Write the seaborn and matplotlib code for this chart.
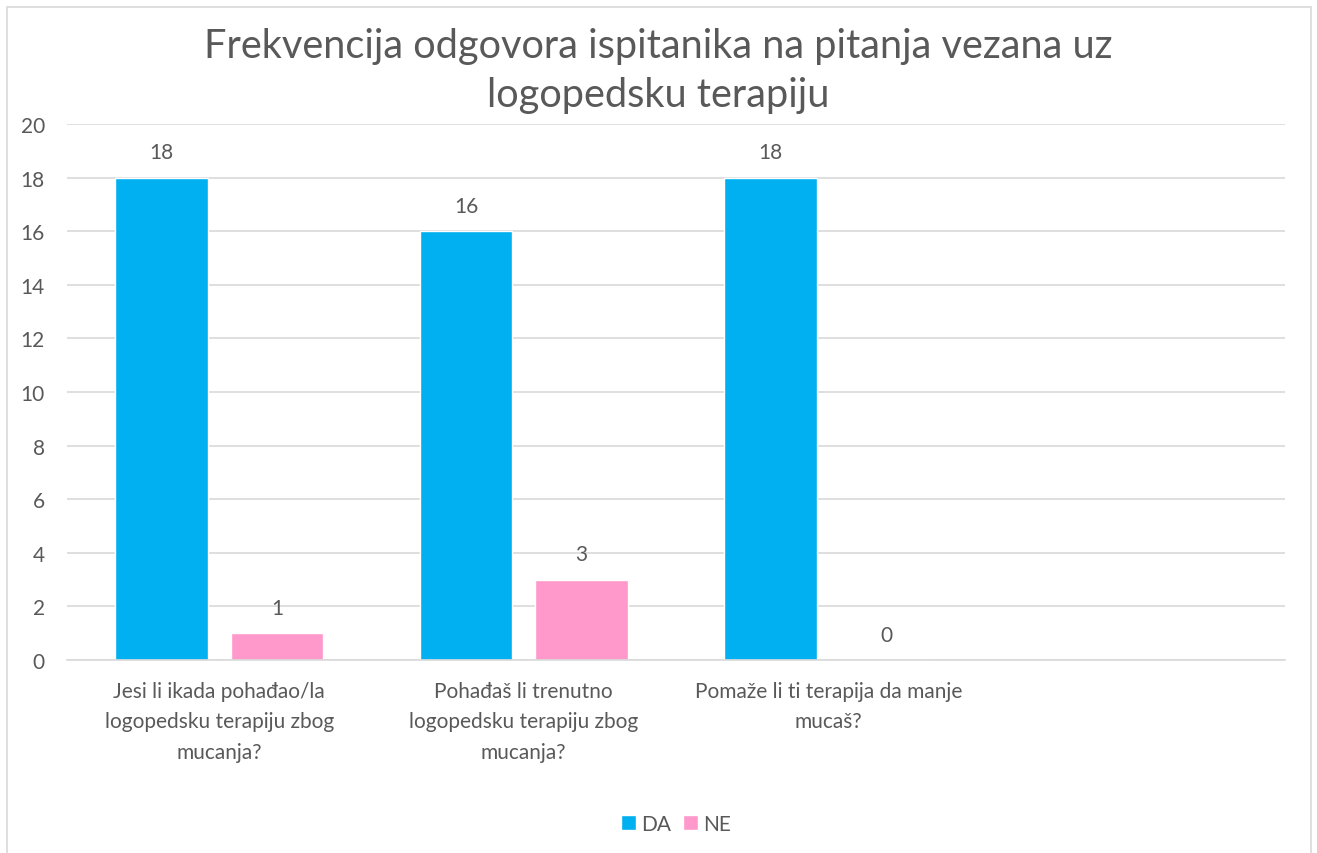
"""Frekvencija odgovora ispitanika - logopedska terapija."""

import matplotlib.pyplot as plt
import pandas as pd
import seaborn as sns
from matplotlib.patches import Rectangle

questions = [
    "Jesi li ikada pohađao/la\nlogopedsku terapiju zbog\nmucanja?",
    "Pohađaš li trenutno\nlogopedsku terapiju zbog\nmucanja?",
    "Pomaže li ti terapija da manje\nmucaš?",
    "",
]
da_values = [18, 16, 18]
ne_values = [1, 3, 0]
answers = ["DA", "NE"]
colors = {"DA": "#00B0F0", "NE": "#FF99CC"}

TEXT = "#595959"
GRID = "#D9D9D9"

rows = []
for q, da, ne in zip(questions, da_values, ne_values):
    rows.append({"pitanje": q, "odgovor": "DA", "broj": da})
    rows.append({"pitanje": q, "odgovor": "NE", "broj": ne})
data = pd.DataFrame(rows)
data["pitanje"] = pd.Categorical(data["pitanje"], categories=questions)

sns.set_style("white")
plt.rcParams["font.family"] = ["Lato", "DejaVu Sans"]

fig = plt.figure(figsize=(13.17, 8.54), dpi=100)
ax = fig.add_axes([67 / 1317, 1 - 661 / 854, (1285 - 67) / 1317, (661 - 125) / 854])

sns.barplot(data=data, x="pitanje", y="broj", hue="odgovor", order=questions,
            hue_order=answers, palette=colors, width=0.76, gap=0.2,
            saturation=1, ax=ax, legend=True)

for container in ax.containers:
    ax.bar_label(container, fmt="%d", padding=11, fontsize=15, color=TEXT)

ax.set_xlim(-0.5, len(questions) - 0.5)
ax.set_ylim(0, 20)
ax.set_yticks(range(0, 21, 2))
ax.yaxis.grid(True, color=GRID, linewidth=1.2)
ax.set_axisbelow(True)
for side in ["top", "right", "left"]:
    ax.spines[side].set_visible(False)
ax.spines["bottom"].set_color(GRID)
ax.spines["bottom"].set_linewidth(1.2)
ax.tick_params(axis="both", length=0, labelsize=15, colors=TEXT)
ax.tick_params(axis="x", pad=15)
ax.tick_params(axis="y", pad=16)
for label in ax.get_xticklabels():
    label.set_linespacing(1.65)
ax.set_xlabel("")
ax.set_ylabel("")

ax.legend(loc="center", bbox_to_anchor=(0.5, (661 - 825) / (661 - 125)), ncol=2,
          frameon=False, fontsize=15, labelcolor=TEXT, handlelength=0.7,
          handleheight=0.7, handletextpad=0.25, columnspacing=0.6)

fig.text(0.5, 1 - 71 / 854, "Frekvencija odgovora ispitanika na pitanja vezana uz\nlogopedsku terapiju",
         ha="center", va="center", fontsize=28.6, color=TEXT, linespacing=1.42)

fig.patches.append(Rectangle((7 / 1317, -0.01), (1311 - 7) / 1317, 1.01 - 8 / 854,
                             transform=fig.transFigure, fill=False,
                             edgecolor=GRID, linewidth=1.2))

fig.savefig("out.png", dpi=100)
